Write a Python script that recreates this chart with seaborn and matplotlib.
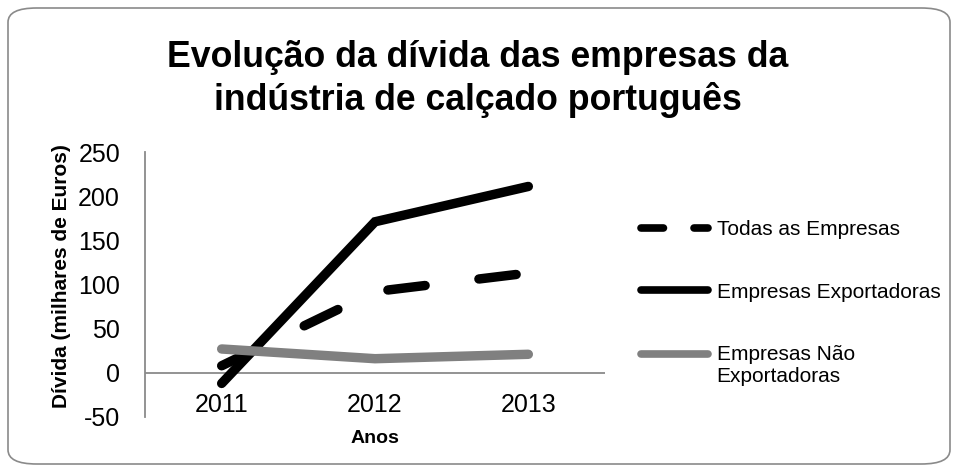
import matplotlib
matplotlib.use("Agg")
import matplotlib.pyplot as plt
from matplotlib.patches import FancyBboxPatch
from matplotlib.legend_handler import HandlerLine2D
import seaborn as sns
import pandas as pd

anos = [2011, 2012, 2013]
series = ["Todas as Empresas", "Empresas Exportadoras", "Empresas Não\nExportadoras"]
todas = [8, 92, 113]
exportadoras = [-12, 171, 211]
nao_exportadoras = [27, 16, 21]

yticks = [-50, 0, 50, 100, 150, 200, 250]
titulo = "Evolução da dívida das empresas da\nindústria de calçado português"

sns.set_theme(style="white")
plt.rcParams["font.family"] = ["Liberation Sans", "DejaVu Sans"]
plt.rcParams["text.color"] = "black"
plt.rcParams["axes.labelcolor"] = "black"
plt.rcParams["xtick.color"] = "black"
plt.rcParams["ytick.color"] = "black"
plt.rcParams["axes.unicode_minus"] = False

df = pd.DataFrame({
    "ano": anos * 3,
    "valor": todas + exportadoras + nao_exportadoras,
    "serie": [series[0]] * 3 + [series[1]] * 3 + [series[2]] * 3,
})

fig = plt.figure(figsize=(9.57, 4.72), dpi=100)
border = FancyBboxPatch((8 / 957, 8 / 472), 942 / 957, 456 / 472,
                        boxstyle="round,pad=0,rounding_size=0.03",
                        transform=fig.transFigure, facecolor="white",
                        edgecolor="#8a8a8a", linewidth=1.2, zorder=-5)
fig.patches.append(border)

ax = fig.add_axes([145 / 957, 1 - 417 / 472, 460 / 957, 265 / 472])
ax.set_facecolor("none")
ax.set_zorder(2)

lw = 6.8
palette = {series[0]: "black", series[1]: "black", series[2]: "#808080"}
dashes = {series[0]: (27 / lw, 39 / lw), series[1]: "", series[2]: ""}
sns.lineplot(data=df, x="ano", y="valor", hue="serie", style="serie",
             palette=palette, dashes=dashes, linewidth=lw, ax=ax,
             hue_order=series, style_order=series, legend=False,
             sort=False)

lines = ax.get_lines()
for ln in lines:
    ln.set_solid_capstyle("round")
    ln.set_dash_capstyle("round")
    ln.set_solid_joinstyle("miter")
lines[0].set_zorder(3)
lines[1].set_zorder(4)
lines[2].set_zorder(5)

ax.set_xlim(2010.5, 2013.5)
ax.set_ylim(-50, 250)
ax.set_xticks(anos)
ax.set_xticklabels([str(a) for a in anos])
ax.set_yticks(yticks)
ax.axhline(0, color="#8a8a8a", linewidth=1.3, zorder=1)
for s in ["top", "right", "bottom"]:
    ax.spines[s].set_visible(False)
ax.spines["left"].set_color("#8a8a8a")
ax.spines["left"].set_linewidth(1.3)
ax.tick_params(axis="y", length=0, pad=18, labelsize=18, labelcolor="black")
ax.tick_params(axis="x", length=0, pad=-17, labelsize=18, labelcolor="black")
ax.set_xlabel("Anos", fontsize=14, fontweight="bold", labelpad=9)
ax.set_ylabel("Dívida (milhares de Euros)", fontsize=15, fontweight="bold", labelpad=5)
ax.yaxis.label.set_y(0.532)

fig.text(0.499, 1 - 79 / 472, titulo, ha="center", va="center",
         fontsize=25.7, fontweight="bold", linespacing=1.25, color="black")


class ShiftedHandler(HandlerLine2D):
    def __init__(self, dy=0.0, **kw):
        super().__init__(**kw)
        self.dy = dy

    def create_artists(self, legend, orig_handle, xdescent, ydescent,
                       width, height, fontsize, trans):
        arts = super().create_artists(legend, orig_handle, xdescent, ydescent,
                                      width, height, fontsize, trans)
        for a in arts:
            yd = a.get_ydata()
            a.set_ydata([v + self.dy for v in yd])
        return arts


leg = fig.legend(lines, series, loc="upper left",
                 bbox_to_anchor=(641 / 957, 1 - 220 / 472), frameon=False,
                 fontsize=15, handlelength=3.2, handletextpad=0.43,
                 labelspacing=2.1, borderpad=0, borderaxespad=0,
                 handler_map={lines[2]: ShiftedHandler(dy=8.5)})
for i, lh in enumerate(leg.get_lines()):
    lh.set_solid_capstyle("round")
    lh.set_dash_capstyle("round")
    lh.set_linewidth(5.5)
    if i == 0:
        lh.set_dashes((2.94, 4.0))

fig.savefig("out.png", dpi=100)
